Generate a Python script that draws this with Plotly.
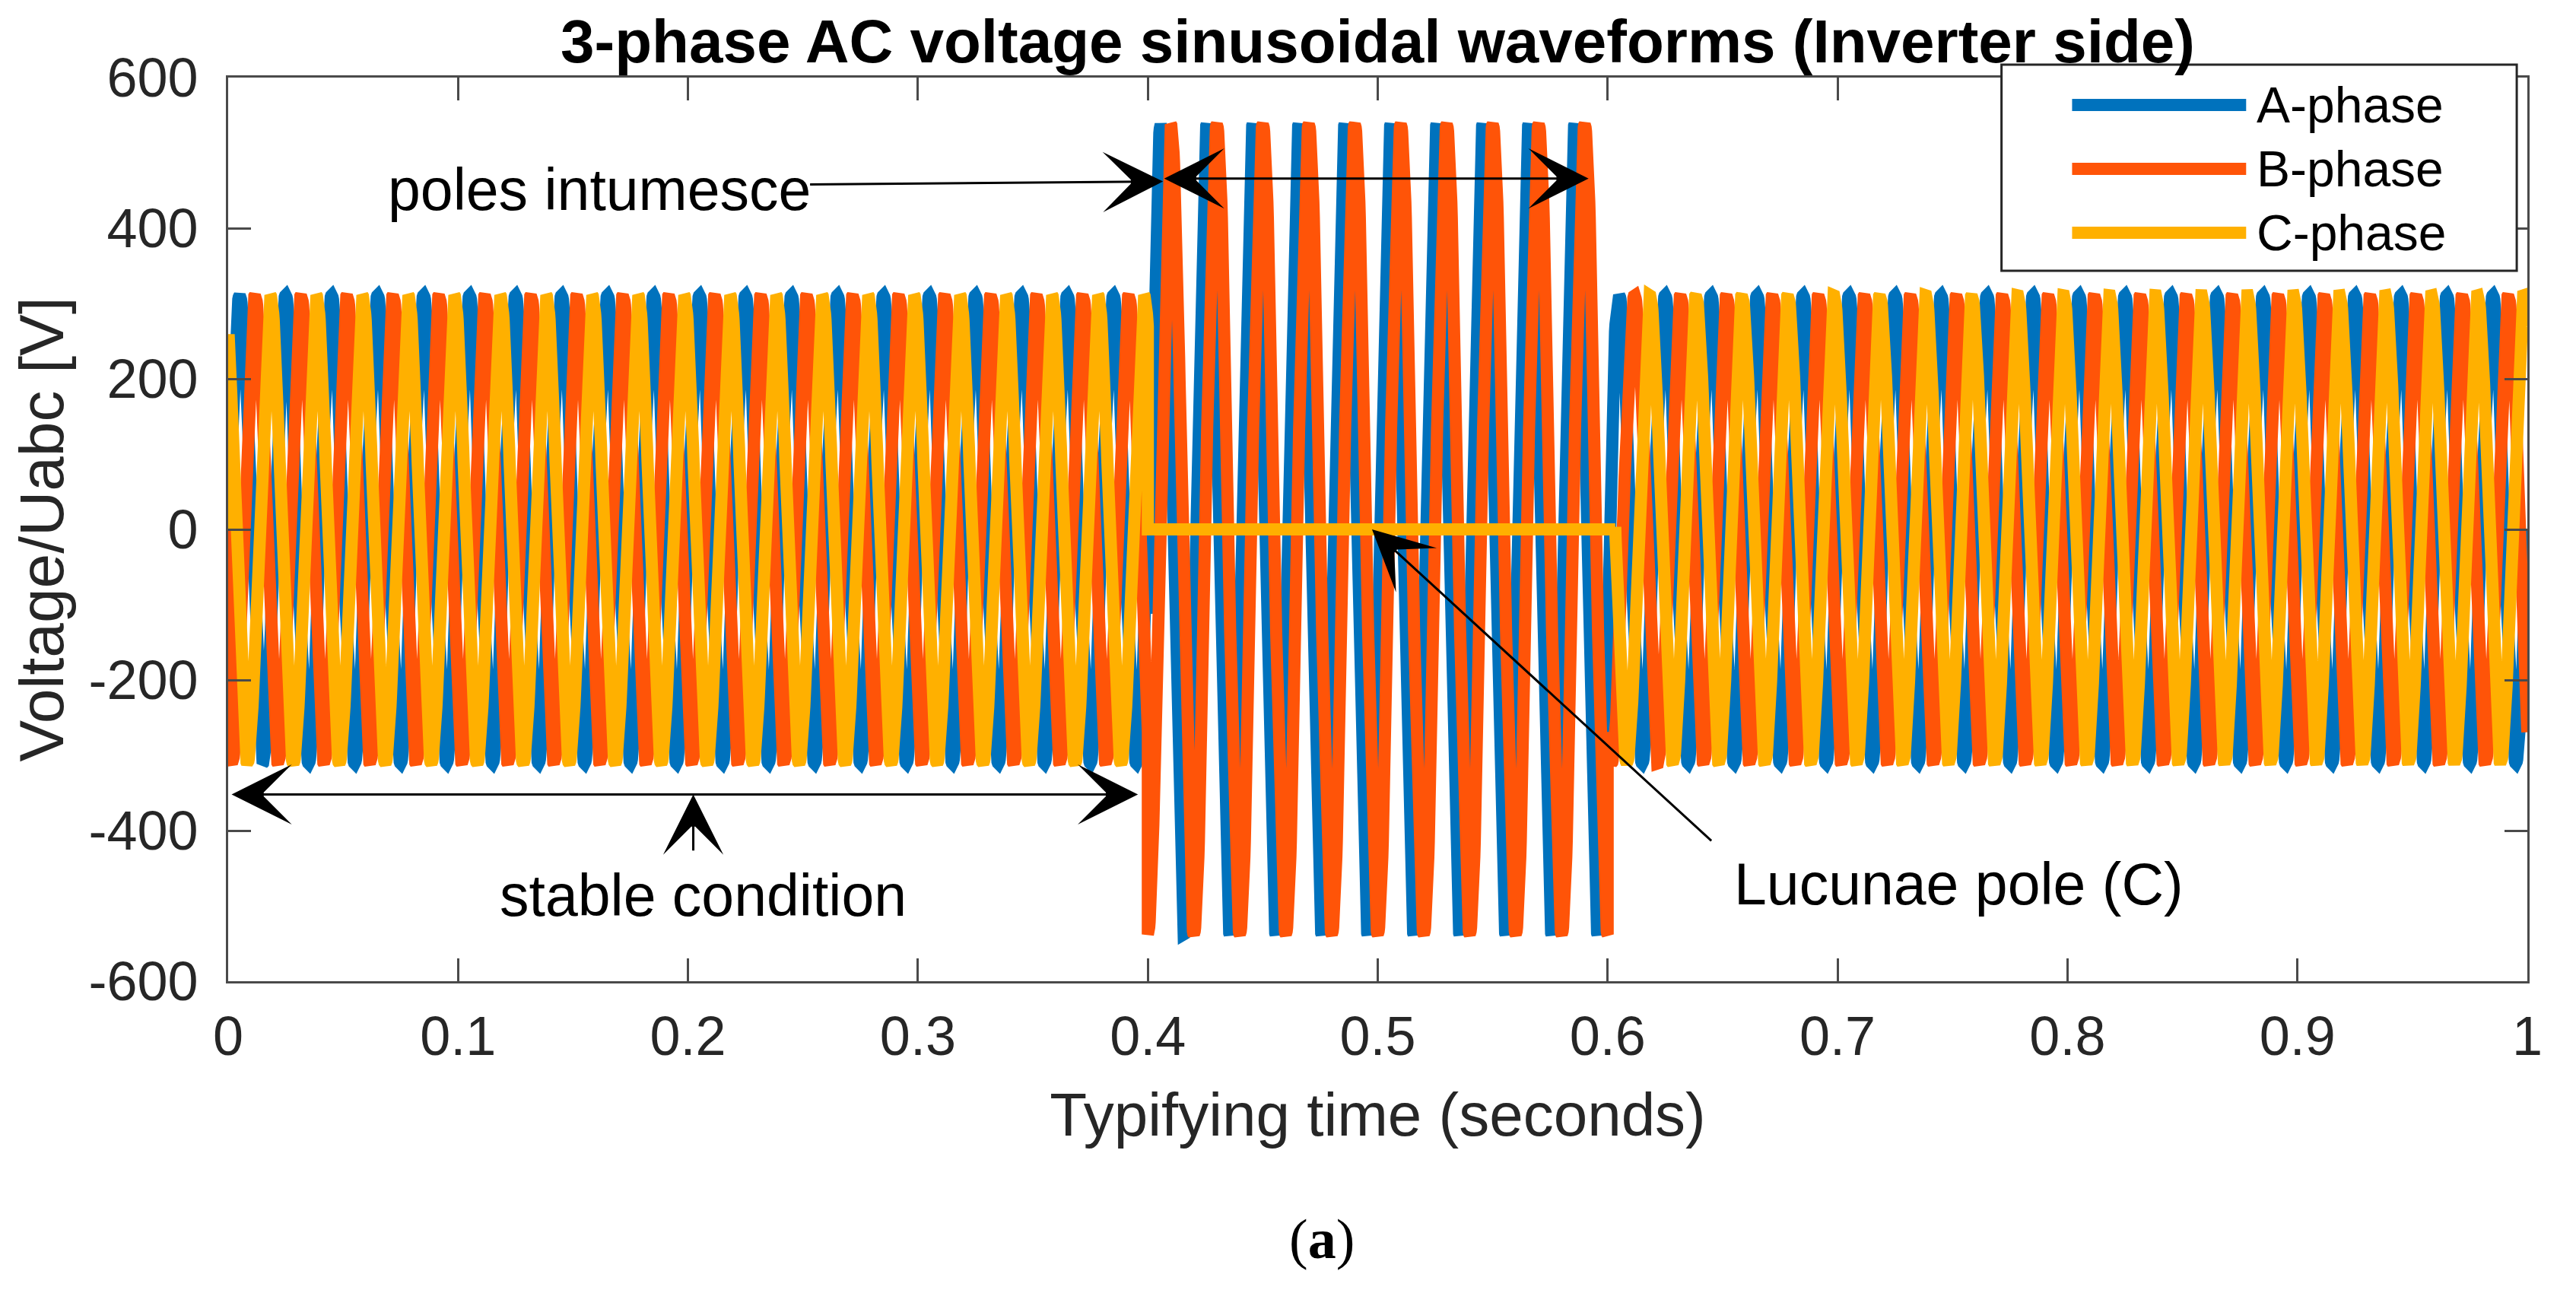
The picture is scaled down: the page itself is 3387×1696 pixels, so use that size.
import numpy as np
import plotly.graph_objects as go

# ---------------- data ----------------
FREQUENCY_HZ = 50
SAMPLE_STEP_S = 0.0002
INITIAL_VALUE_V = 0.0

PHASE_NAMES = ["A-phase", "B-phase", "C-phase"]

A_SEGMENT_EDGES_S = [0.0, 0.4, 0.6, 1.0]
A_AMPLITUDE_V = [311, 538, 311]
A_PHASE_DEG = [0, -12, 0]

B_SEGMENT_EDGES_S = [0.0, 0.4, 0.6, 1.0]
B_AMPLITUDE_V = [311, 538, 311]
B_PHASE_DEG = [-120, -90, -120]

C_SEGMENT_EDGES_S = [0.0, 0.4, 0.6033, 1.0]
C_AMPLITUDE_V = [311, 0, 311]
C_PHASE_DEG = [120, 0, 120]

X_TICKS = [0, 0.1, 0.2, 0.3, 0.4, 0.5, 0.6, 0.7, 0.8, 0.9, 1.0]
X_TICK_LABELS = ["0", "0.1", "0.2", "0.3", "0.4", "0.5", "0.6", "0.7", "0.8", "0.9", "1"]
Y_TICKS = [-600, -400, -200, 0, 200, 400, 600]
Y_TICK_LABELS = ["-600", "-400", "-200", "0", "200", "400", "600"]

TITLE = "3-phase AC voltage sinusoidal waveforms (Inverter side)"
X_TITLE = "Typifying time (seconds)"
Y_TITLE = "Voltage/Uabc [V]"

# ---------------- styling ----------------
COLORS = ["#0072BD", "#FF5408", "#FFB000"]
LINE_W = 16
FONT = "Liberation Sans, Arial, sans-serif"
AX_COLOR = "#4a4a4a"
TXT_COLOR = "#262626"
PAGE_OFFSET = 8  # default body margin of the html page


def build_wave(edges, amps, phases):
    ts, vs = [], []
    for k in range(len(amps)):
        t0, t1 = edges[k], edges[k + 1]
        n = int(round((t1 - t0) / SAMPLE_STEP_S))
        t = np.linspace(t0, t1, n + 1)
        v = amps[k] * np.sin(2 * np.pi * FREQUENCY_HZ * t + np.deg2rad(phases[k]))
        ts.append(t)
        vs.append(v)
    t = np.concatenate(ts)
    v = np.concatenate(vs)
    v[0] = INITIAL_VALUE_V
    return t, v


waves = [
    build_wave(A_SEGMENT_EDGES_S, A_AMPLITUDE_V, A_PHASE_DEG),
    build_wave(B_SEGMENT_EDGES_S, B_AMPLITUDE_V, B_PHASE_DEG),
    build_wave(C_SEGMENT_EDGES_S, C_AMPLITUDE_V, C_PHASE_DEG),
]

fig = go.Figure()
for (t, v), name, col in zip(waves, PHASE_NAMES, COLORS):
    fig.add_trace(go.Scatter(x=t, y=v, mode="lines", name=name,
                             line=dict(color=col, width=LINE_W),
                             showlegend=False))

W, H = 3387, 1696
ML = 300 - PAGE_OFFSET
MT = 102 - PAGE_OFFSET
MR = W - (3323 - PAGE_OFFSET)
MB = H - (1290 - PAGE_OFFSET)

axis_common = dict(showgrid=False, zeroline=False, showline=True, mirror="ticks",
                   linecolor=AX_COLOR, linewidth=3, ticks="inside", ticklen=30,
                   tickwidth=3, tickcolor=AX_COLOR,
                   tickfont=dict(family=FONT, size=72, color=TXT_COLOR))

fig.update_xaxes(range=[0, 1], tickvals=X_TICKS, ticktext=X_TICK_LABELS,
                 ticklabelstandoff=8,
                 title=dict(text=X_TITLE, font=dict(family=FONT, size=80, color=TXT_COLOR),
                            standoff=36),
                 **axis_common)
fig.update_yaxes(range=[-600, 600], tickvals=Y_TICKS, ticktext=Y_TICK_LABELS,
                 ticklabelstandoff=22,
                 title=dict(text=Y_TITLE, font=dict(family=FONT, size=82, color=TXT_COLOR),
                            standoff=6),
                 **axis_common)

ann_font = dict(family=FONT, size=77, color="black")
arrow_common = dict(xref="x", yref="y", axref="x", ayref="y", text="", showarrow=True,
                    arrowhead=3, arrowsize=4.4, arrowwidth=3, arrowcolor="black",
                    startarrowhead=3, startarrowsize=4.4)

annotations = [
    # texts
    dict(x=0.1613, y=452, xref="x", yref="y", text="poles intumesce", showarrow=False,
         font=ann_font),
    dict(x=0.2066, y=-486, xref="x", yref="y", text="stable condition", showarrow=False,
         font=ann_font),
    dict(x=0.7527, y=-471, xref="x", yref="y", text="Lucunae pole (C)", showarrow=False,
         font=ann_font),
    # arrows
    dict(x=0.4066, y=462, ax=0.2526, ay=458, **arrow_common),
    dict(x=0.5917, y=466, ax=0.4066, ay=466, arrowside="end+start", **arrow_common),
    dict(x=0.3957, y=-352, ax=0.0010, ay=-352, arrowside="end+start", **arrow_common),
    dict(x=0.2023, y=-352, ax=0.2023, ay=-428, **arrow_common),
    dict(x=0.4975, y=0, ax=0.6456, ay=-415, **arrow_common),
    # panel label
    dict(x=0.4757, y=-0.3216, xref="paper", yref="paper", text="(<b>a</b>)", showarrow=False,
         font=dict(family="Liberation Serif, Times New Roman, serif", size=74, color="black")),
]

# custom legend (long line samples like the reference)
LEG_BOX = (0.7713, 0.7862, 0.9954, 1.0143)
LEG_LINE_X = (0.8020, 0.8777)
LEG_ROWS_Y = [0.9697, 0.8990, 0.8283]
LEG_TEXT_X = 0.8815
shapes = [dict(type="rect", xref="paper", yref="paper", x0=LEG_BOX[0], y0=LEG_BOX[1],
               x1=LEG_BOX[2], y1=LEG_BOX[3], line=dict(color="#262626", width=3),
               fillcolor="white", layer="above")]
for name, col, yy in zip(PHASE_NAMES, COLORS, LEG_ROWS_Y):
    shapes.append(dict(type="line", xref="paper", yref="paper", x0=LEG_LINE_X[0], x1=LEG_LINE_X[1],
                       y0=yy, y1=yy, line=dict(color=col, width=LINE_W), layer="above"))
    annotations.append(dict(x=LEG_TEXT_X, y=yy, xref="paper", yref="paper", text=name,
                            showarrow=False, xanchor="left", yanchor="middle",
                            font=dict(family=FONT, size=66, color="black")))

fig.update_layout(
    width=W, height=H,
    margin=dict(l=ML, r=MR, t=MT, b=MB, autoexpand=False),
    paper_bgcolor="white", plot_bgcolor="white",
    title=dict(text="<b>" + TITLE + "</b>", x=0.5, xref="paper", xanchor="center",
               y=1 - (54 - PAGE_OFFSET) / H, yref="container", yanchor="middle",
               font=dict(family=FONT, size=80, color="black")),
    annotations=annotations,
    shapes=shapes,
)

fig.write_html("out.html")
